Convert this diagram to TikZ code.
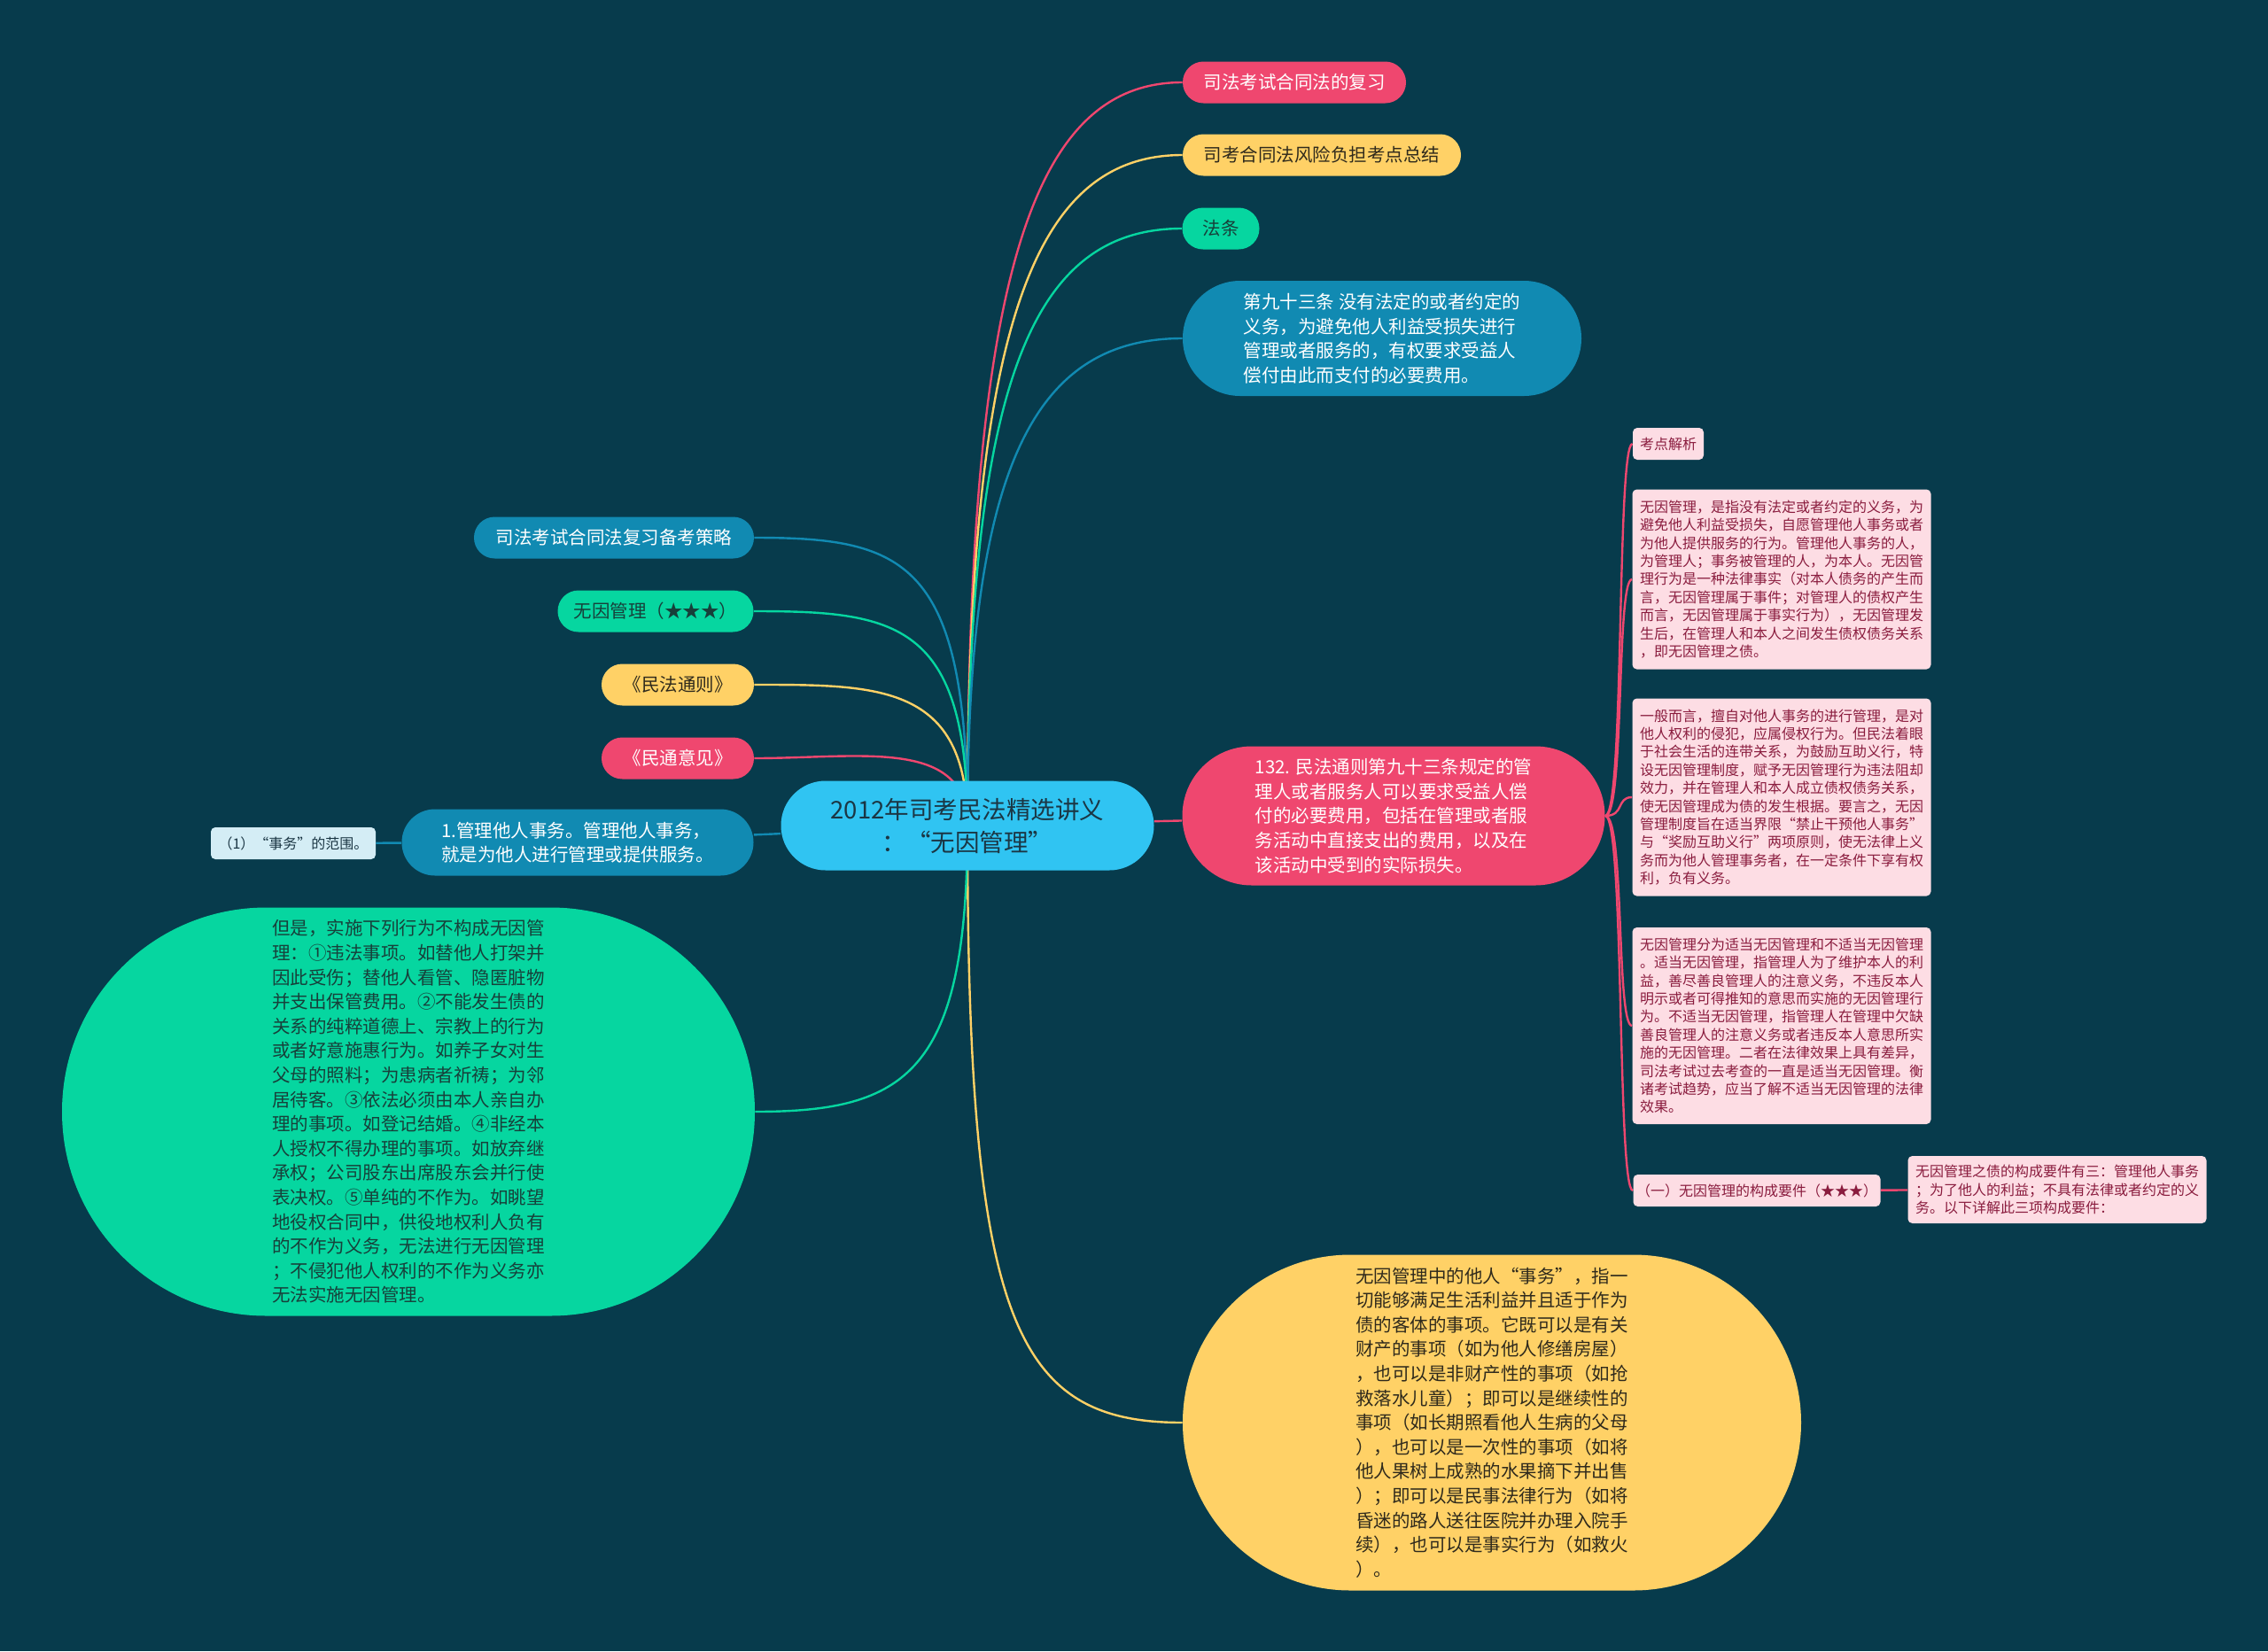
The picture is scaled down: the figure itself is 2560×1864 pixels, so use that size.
\documentclass[tikz,border=0pt]{standalone}
\usepackage{fontspec}
\setmainfont{Noto Sans CJK SC}
\usepackage{tikz}
\pgfdeclarelayer{bglayer}
\pgfdeclarelayer{edgelayer}
\pgfdeclarelayer{nodelayer}
\pgfsetlayers{bglayer,edgelayer,nodelayer,main}
\definecolor{bgc}{HTML}{073B4C}
\definecolor{rootc}{HTML}{30C4F2}
\definecolor{pinkc}{HTML}{EF476F}
\definecolor{yellowc}{HTML}{FFD166}
\definecolor{greenc}{HTML}{06D6A0}
\definecolor{bluec}{HTML}{118AB2}
\definecolor{notec}{HTML}{FDDDE4}
\definecolor{notetext}{HTML}{8A1C3E}
\definecolor{paleblue}{HTML}{D4EDF5}
\definecolor{darktext}{HTML}{1B3644}
\definecolor{browntext}{HTML}{2F2A1C}
\definecolor{greentext}{HTML}{17403A}
\newcommand{\rootfs}{\fontsize{13.75pt}{18.5pt}\selectfont}
\newcommand{\mainfs}{\fontsize{10.25pt}{13.8pt}\selectfont}
\newcommand{\notefs}{\fontsize{8pt}{10.2pt}\selectfont}
\tikzstyle{edge}=[draw, line width=1.2pt]
\tikzstyle{pill}=[rectangle, inner sep=0pt, align=center, font=\mainfs]
\tikzstyle{bigpill}=[rectangle, inner sep=0pt, align=left, font=\mainfs]
\tikzstyle{note}=[rectangle, rounded corners=2.5pt, inner sep=0pt, align=left, font=\notefs, fill=notec, text=notetext]

\begin{document}
\begin{tikzpicture}[x=0.5pt, y=-0.5pt]
				\begin{pgfonlayer}{bglayer}
					\fill [bgc] (0,0) rectangle (2560,1864);
				\end{pgfonlayer}
				\useasboundingbox (0,0) rectangle (2560,1864);
				\begin{pgfonlayer}{nodelayer}
					\node [style=pill, fill=rootc, text=darktext, font=\rootfs, minimum width=210.5pt, minimum height=50.5pt, rounded corners=25.2pt] (0) at (1092, 932) {2012年司考民法精选讲义\\：“无因管理”};
					\node [style=pill, fill=pinkc, text=white, minimum width=126pt, minimum height=23.5pt, rounded corners=11.7pt] (1) at (1461, 93) {司法考试合同法的复习};
					\node [style=pill, fill=yellowc, text=browntext, minimum width=157pt, minimum height=23.5pt, rounded corners=11.7pt] (2) at (1492, 175) {司考合同法风险负担考点总结};
					\node [style=pill, fill=greenc, text=greentext, minimum width=43.5pt, minimum height=23.5pt, rounded corners=11.7pt] (3) at (1378, 258) {法条};
					\node [style=bigpill, fill=bluec, text=white, minimum width=225pt, minimum height=65pt, rounded corners=32.4pt] (4) at (1560, 382) {第九十三条 没有法定的或者约定的\\义务，为避免他人利益受损失进行\\管理或者服务的，有权要求受益人\\偿付由此而支付的必要费用。};
					\node [style=bigpill, fill=pinkc, text=white, minimum width=238.5pt, minimum height=78.5pt, rounded corners=39.2pt] (5) at (1573, 921) {132. 民法通则第九十三条规定的管\\理人或者服务人可以要求受益人偿\\付的必要费用，包括在管理或者服\\务活动中直接支出的费用，以及在\\该活动中受到的实际损失。};
					\node [style=bigpill, fill=yellowc, text=browntext, minimum width=349pt, minimum height=189.5pt, rounded corners=94.7pt] (6) at (1684, 1606) {无因管理中的他人“事务”，指一\\切能够满足生活利益并且适于作为\\债的客体的事项。它既可以是有关\\财产的事项（如为他人修缮房屋）\\，也可以是非财产性的事项（如抢\\救落水儿童）；即可以是继续性的\\事项（如长期照看他人生病的父母\\），也可以是一次性的事项（如将\\他人果树上成熟的水果摘下并出售\\）；即可以是民事法律行为（如将\\昏迷的路人送往医院并办理入院手\\续），也可以是事实行为（如救火\\）。};
					\node [style=pill, fill=bluec, text=white, minimum width=158pt, minimum height=23.5pt, rounded corners=11.7pt] (7) at (693, 607) {司法考试合同法复习备考策略};
					\node [style=pill, fill=greenc, text=greentext, minimum width=110.5pt, minimum height=23.5pt, rounded corners=11.7pt] (8) at (740, 690) {无因管理（★★★）};
					\node [style=pill, fill=yellowc, text=browntext, minimum width=86pt, minimum height=23.5pt, rounded corners=11.7pt] (9) at (765, 773) {《民法通则》};
					\node [style=pill, fill=pinkc, text=white, minimum width=86pt, minimum height=23.5pt, rounded corners=11.7pt] (10) at (765, 856) {《民通意见》};
					\node [style=bigpill, fill=bluec, text=white, minimum width=198.5pt, minimum height=37.5pt, rounded corners=18.7pt] (11) at (652, 951) {1.管理他人事务。管理他人事务，\\就是为他人进行管理或提供服务。};
					\node [style=note, fill=paleblue, text=darktext, minimum width=93pt, minimum height=18pt] (12) at (331, 952) {（1）“事务”的范围。};
					\node [style=bigpill, fill=greenc, text=greentext, minimum width=391pt, minimum height=230.5pt, rounded corners=115.2pt] (13) at (461, 1255) {但是，实施下列行为不构成无因管\\理：①违法事项。如替他人打架并\\因此受伤；替他人看管、隐匿脏物\\并支出保管费用。②不能发生债的\\关系的纯粹道德上、宗教上的行为\\或者好意施惠行为。如养子女对生\\父母的照料；为患病者祈祷；为邻\\居待客。③依法必须由本人亲自办\\理的事项。如登记结婚。④非经本\\人授权不得办理的事项。如放弃继\\承权；公司股东出席股东会并行使\\表决权。⑤单纯的不作为。如眺望\\地役权合同中，供役地权利人负有\\的不作为义务，无法进行无因管理\\；不侵犯他人权利的不作为义务亦\\无法实施无因管理。};
					\node [style=note, minimum width=40pt, minimum height=18pt] (14) at (1883, 501) {考点解析};
					\node [style=note, minimum width=168.5pt, minimum height=101.5pt] (15) at (2011, 654) {无因管理，是指没有法定或者约定的义务，为\\避免他人利益受损失，自愿管理他人事务或者\\为他人提供服务的行为。管理他人事务的人，\\为管理人；事务被管理的人，为本人。无因管\\理行为是一种法律事实（对本人债务的产生而\\言，无因管理属于事件；对管理人的债权产生\\而言，无因管理属于事实行为），无因管理发\\生后，在管理人和本人之间发生债权债务关系\\，即无因管理之债。};
					\node [style=note, minimum width=168.5pt, minimum height=111.5pt] (16) at (2011, 900) {一般而言，擅自对他人事务的进行管理，是对\\他人权利的侵犯，应属侵权行为。但民法着眼\\于社会生活的连带关系，为鼓励互助义行，特\\设无因管理制度，赋予无因管理行为违法阻却\\效力，并在管理人和本人成立债权债务关系，\\使无因管理成为债的发生根据。要言之，无因\\管理制度旨在适当界限“禁止干预他人事务”\\与“奖励互助义行”两项原则，使无法律上义\\务而为他人管理事务者，在一定条件下享有权\\利，负有义务。};
					\node [style=note, minimum width=168.5pt, minimum height=111pt] (17) at (2011, 1158) {无因管理分为适当无因管理和不适当无因管理\\。适当无因管理，指管理人为了维护本人的利\\益，善尽善良管理人的注意义务，不违反本人\\明示或者可得推知的意思而实施的无因管理行\\为。不适当无因管理，指管理人在管理中欠缺\\善良管理人的注意义务或者违反本人意思所实\\施的无因管理。二者在法律效果上具有差异，\\司法考试过去考查的一直是适当无因管理。衡\\诸考试趋势，应当了解不适当无因管理的法律\\效果。};
					\node [style=note, minimum width=139.5pt, minimum height=18pt] (18) at (1983, 1344) {（一）无因管理的构成要件（★★★）};
					\node [style=note, minimum width=168.5pt, minimum height=38pt] (19) at (2322, 1343) {无因管理之债的构成要件有三：管理他人事务\\；为了他人的利益；不具有法律或者约定的义\\务。以下详解此三项构成要件：};
				\end{pgfonlayer}
				\begin{pgfonlayer}{edgelayer}
					\draw [style=edge, pinkc] (0.center) .. controls +(0,-620) and +(-170,0) .. (1.west);
					\draw [style=edge, yellowc] (0.center) .. controls +(0,-560) and +(-170,0) .. (2.west);
					\draw [style=edge, greenc] (0.center) .. controls +(0,-500) and +(-170,0) .. (3.west);
					\draw [style=edge, bluec] (0.center) .. controls +(0,-400) and +(-170,0) .. (4.west);
					\draw [style=edge, pinkc] (0) to (5);
					\draw [style=edge, yellowc] (0.center) .. controls +(0,560) and +(-190,0) .. (6.west);
					\draw [style=edge, bluec] (0.center) .. controls +(0,-300) and +(170,0) .. (7.east);
					\draw [style=edge, greenc] (0.center) .. controls +(0,-230) and +(160,0) .. (8.east);
					\draw [style=edge, yellowc] (0.center) .. controls +(0,-160) and +(140,0) .. (9.east);
					\draw [style=edge, pinkc] (0.center) .. controls +(0,-100) and +(120,0) .. (10.east);
					\draw [style=edge, bluec] (0) to (11);
					\draw [style=edge, bluec] (11) to (12);
					\draw [style=edge, greenc] (0.center) .. controls +(0,280) and +(170,0) .. (13.east);
					\draw [style=edge, pinkc] (5.east) .. controls +(22,0) and +(-18,0) .. (14.west);
					\draw [style=edge, pinkc] (5.east) .. controls +(22,0) and +(-18,0) .. (15.west);
					\draw [style=edge, pinkc] (5.east) .. controls +(22,0) and +(-18,0) .. (16.west);
					\draw [style=edge, pinkc] (5.east) .. controls +(22,0) and +(-18,0) .. (17.west);
					\draw [style=edge, pinkc] (5.east) .. controls +(22,0) and +(-18,0) .. (18.west);
					\draw [style=edge, pinkc] (18) to (19);
				\end{pgfonlayer}
\end{tikzpicture}
\end{document}
